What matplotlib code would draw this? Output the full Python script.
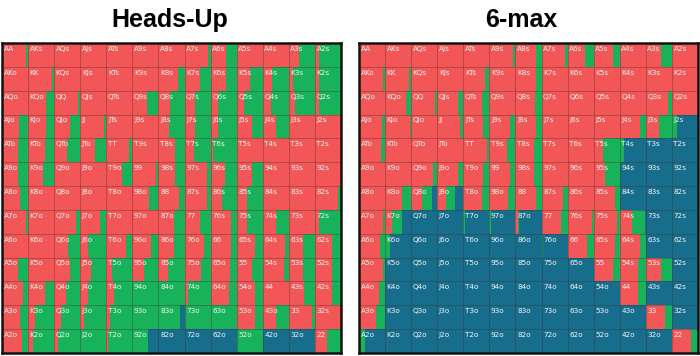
import matplotlib.pyplot as plt

ranks = ["A", "K", "Q", "J", "T", "9", "8", "7", "6", "5", "4", "3", "2"]

# Heads-Up: raise share and fold share per cell (call is the rest)
hu_raise = [
    [.92, 1, 1, 1, 1, 1, 1, .9, .58, 1, 1, .4, .15],
    [1, .9, 1, 1, 1, 1, .75, .6, .58, .5, .35, .15, .15],
    [1, .7, .9, 1, 1, .55, .45, .4, .3, .28, .3, .25, .15],
    [.65, .7, .6, .92, 1, 1, .4, .4, .3, .6, .5, 1, 1],
    [.6, .65, .5, .55, .88, 1, .65, .35, .1, 1, 1, 1, 1],
    [.6, .58, 1, 1, .6, .9, .65, .85, .55, .6, 1, 1, 1],
    [.7, 1, 1, 1, 1, .65, .8, .85, .45, .4, 1, 1, .9],
    [.93, 1, .85, .75, 1, 1, .6, .6, .8, .4, .5, 1, .15],
    [1, 1, .55, .3, .75, .7, .6, .75, .8, .7, .85, .55, .65],
    [.6, 1, .6, .4, .2, .45, .35, .65, .75, .6, .8, .55, .65],
    [.8, .65, .45, .3, .3, 0, 0, .15, .7, .7, 1, .6, .65],
    [.7, .25, .25, .15, .15, 0, 0, 0, 0, .7, .5, .9, 1],
    [.75, .2, .15, 0, .07, 0, 0, 0, 0, 0, 0, 0, .45],
]
hu_fold = [
    [0] * 13, [0] * 13, [0] * 13, [0] * 13, [0] * 13, [0] * 13, [0] * 13,
    [0] * 13, [0] * 13, [0] * 13, [0] * 13,
    [0, 0, 0, 0, 0, 0, .18, 0, 0, 0, 0, 0, 0],
    [0, 0, 0, 0, 0, .4, 1, 1, 1, 0, 1, 1, 0],
]

# 6-max
six_raise = [
    [1, 1, 1, 1, 1, .9, .8, .9, .67, .75, 1, .6, 1],
    [.92, .92, 1, 1, .85, 1, .8, 1, 1, 1, 1, 1, 1],
    [1, .8, .9, .8, .7, 1, .75, 1, 1, 1, 1, .85, 1],
    [.9, .95, 1, .88, .75, .8, .8, 1, 1, 1, .77, .5, 0],
    [.85, 1, 1, 1, .9, .67, .7, 1, 1, .37, 0, 0, 0],
    [1, 1, .85, .8, .77, .8, .7, 1, 1, .45, 0, 0, 0],
    [1, .63, .4, .35, .7, .73, .8, .83, 1, .82, 0, 0, 0],
    [.93, .25, 0, 0, 0, 0, .08, .75, .92, .88, .45, 0, 0],
    [.8, 0, 0, 0, 0, 0, 0, 0, .73, .82, .77, 0, 0],
    [.92, 0, 0, 0, 0, 0, 0, 0, 0, .75, .7, .6, 0],
    [.77, 0, 0, 0, 0, 0, 0, 0, 0, 0, .7, 0, 0],
    [.67, 0, 0, 0, 0, 0, 0, 0, 0, 0, 0, .73, 0],
    [0, 0, 0, 0, 0, 0, 0, 0, 0, 0, 0, 0, .75],
]
six_fold = [
    [0] * 13,
    [0] * 13,
    [0] * 13,
    [0, 0, 0, 0, 0, 0, 0, 0, 0, 0, 0, 0, .8],
    [0, 0, 0, 0, 0, 0, 0, 0, 0, 0, .85, 1, 1],
    [0, 0, 0, 0, 0, 0, 0, 0, 0, 0, 1, 1, 1],
    [0, 0, .2, .32, 0, 0, 0, 0, 0, 0, 1, 1, 1],
    [0, .35, 1, 1, .95, .92, .86, 0, 0, 0, .05, 1, 1],
    [0, .82, 1, 1, 1, 1, 1, .94, 0, 0, 0, 1, 1],
    [0, 1, 1, 1, 1, 1, 1, 1, 1, 0, 0, 0, 1],
    [0, 1, 1, 1, 1, 1, 1, 1, 1, 1, 0, 1, 1],
    [0, 1, 1, 1, 1, 1, 1, 1, 1, 1, 1, 0, 1],
    [.78, 1, 1, 1, 1, 1, 1, 1, 1, 1, 1, 1, 0],
]

RED = "#f25656"
GREEN = "#17b25a"
BLUE = "#166e8c"


def hand_name(i, j):
    if i == j:
        return ranks[i] + ranks[j]
    if j > i:
        return ranks[i] + ranks[j] + "s"
    return ranks[j] + ranks[i] + "o"


def draw_grid(ax, raise_vals, fold_vals):
    for i in range(13):
        for j in range(13):
            r = raise_vals[i][j]
            f = fold_vals[i][j]
            c = max(0.0, 1 - r - f)
            left = j
            for w, col in ((r, RED), (c, GREEN), (f, BLUE)):
                if w > 0:
                    ax.barh(i + 0.5, w, left=left, height=1, color=col,
                            edgecolor="none", linewidth=0)
                    left += w
            ax.text(j + 0.06, i + 0.12, hand_name(i, j), color="#f4f4f4",
                    fontsize=5.2, ha="left", va="top")
    for k in range(1, 13):
        ax.axhline(k, color="#4a2a2a", linewidth=0.5, alpha=0.5)
        ax.axvline(k, color="#4a2a2a", linewidth=0.5, alpha=0.5)
    ax.set_xlim(0, 13)
    ax.set_ylim(13, 0)
    ax.set_xticks([])
    ax.set_yticks([])
    for s in ax.spines.values():
        s.set_linewidth(1.8)
        s.set_color("#111111")


fig = plt.figure(figsize=(7, 3.56), dpi=100)
ax1 = fig.add_axes([2 / 700, 3 / 356, 339 / 700, 310 / 356])
ax2 = fig.add_axes([359 / 700, 3 / 356, 339 / 700, 310 / 356])

draw_grid(ax1, hu_raise, hu_fold)
draw_grid(ax2, six_raise, six_fold)

title_font = ["Liberation Sans Narrow", "Liberation Sans", "DejaVu Sans"]
fig.text(170 / 700, 1 - 20 / 356, "Heads-Up", ha="center", va="center",
         fontsize=18, fontweight="bold", family=title_font)
fig.text(521 / 700, 1 - 20 / 356, "6-max", ha="center", va="center",
         fontsize=18, fontweight="bold", family=title_font)

fig.savefig("out.png", dpi=100)
